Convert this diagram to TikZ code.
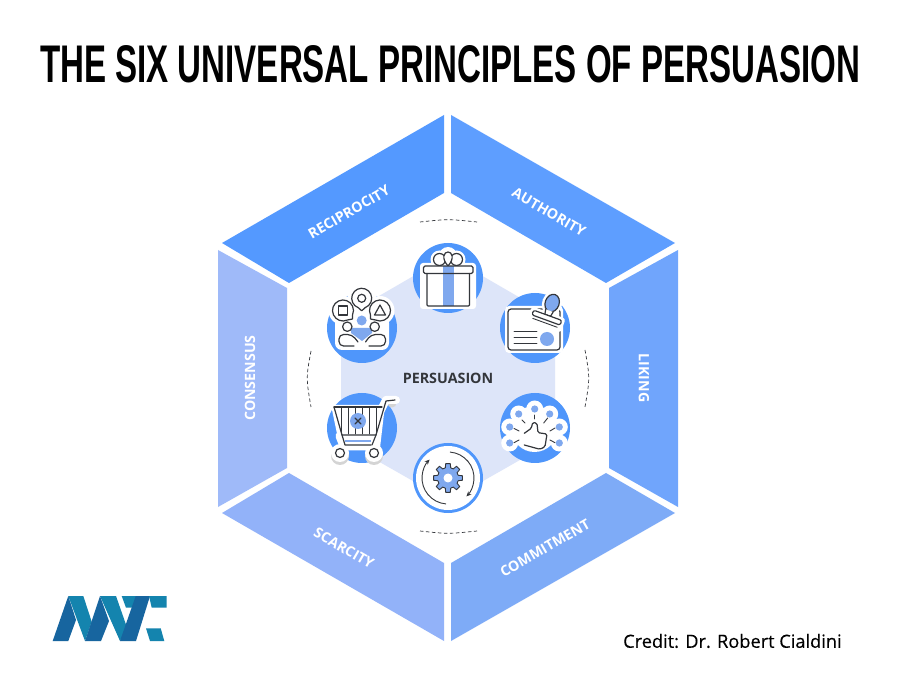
\documentclass[tikz,border=0pt]{standalone}
\usepackage{fontspec}
\usepackage{graphicx}
\usetikzlibrary{arrows.meta}
\setmainfont{Open Sans}
\newfontfamily\titlefont{Liberation Sans}
\newfontfamily\creditfont[FakeBold=0.35]{Open Sans}
\definecolor{cRec}{HTML}{5499FF}
\definecolor{cAut}{HTML}{5E9EFF}
\definecolor{cLik}{HTML}{70A5FC}
\definecolor{cCom}{HTML}{7EABF7}
\definecolor{cSca}{HTML}{92B2F9}
\definecolor{cCon}{HTML}{9FBAF9}
\definecolor{cHex}{HTML}{DDE5F9}
\definecolor{cDisc}{HTML}{4F96FB}
\definecolor{cSoft}{HTML}{7FA8EE}
\definecolor{cInk}{HTML}{33363B}
\definecolor{cHalo}{HTML}{D4D4D4}
\definecolor{cDark}{HTML}{17659F}
\definecolor{cTeal}{HTML}{1484AE}
\tikzset{
  paneltext/.style={text=white,font=\fontsize{14.2}{16}\selectfont\bfseries,inner sep=0pt},
  disc/.style={fill=cDisc,draw=none},
  ink/.style={draw=cInk,line width=1.2pt,line join=round,line cap=round},
  thin ink/.style={draw=cInk,line width=.9pt,line cap=round},
  soft/.style={fill=cSoft,draw=none},
  dasharc/.style={draw=cInk,line width=.7pt,dash pattern=on 3.5pt off 2.5pt},
}
\begin{document}
\begin{tikzpicture}[x=1pt,y=-1pt]
\useasboundingbox (0,0) rectangle (900,700);
\fill[white] (0,0) rectangle (900,700);
% title
\node[inner sep=0pt] (title) at (450,64) {\resizebox{820pt}{37pt}{\titlefont\bfseries THE SIX UNIVERSAL PRINCIPLES OF PERSUASION}};
% panels
\fill[cRec] (444,115) -- (444,193) -- (289,283) -- (222,243) -- cycle;
\fill[cAut] (451,115) -- (451,193) -- (606,283) -- (675,243) -- cycle;
\fill[cLik] (678,250) -- (678,507) -- (609,468) -- (609,288) -- cycle;
\fill[cCom] (675,513) -- (606,473) -- (451,563) -- (451,641) -- cycle;
\fill[cSca] (222,513) -- (289,473) -- (444,563) -- (444,641) -- cycle;
\fill[cCon] (218,250) -- (287,288) -- (287,468) -- (218,507) -- cycle;
\node[paneltext,rotate=30] (rec) at (349,212) {RECIPROCITY};
\node[paneltext,rotate=-30] (aut) at (549,212) {AUTHORITY};
\node[paneltext,rotate=-90] (lik) at (644,378) {LIKING};
\node[paneltext,rotate=30] (com) at (545,548) {COMMITMENT};
\node[paneltext,rotate=-30] (sca) at (344,548) {SCARCITY};
\node[paneltext,rotate=90] (con) at (250,378) {CONSENSUS};
% inner hexagon
\fill[cHex] (448,256) -- (555,318) -- (555,440) -- (448,501) -- (341,440) -- (341,318) -- cycle;
\node[inner sep=0pt,text=cInk,font=\fontsize{14.3}{16}\selectfont\bfseries] (core) at (448,378) {PERSUASION};
% dashed arcs
\draw[dasharc] (420,222) .. controls (448,219) .. (477,222);
\draw[dasharc] (420,531) .. controls (448,534) .. (477,531);
\draw[dasharc] (311,351) .. controls (306,378) .. (311,407);
\draw[dasharc] (585,350) .. controls (590,378) .. (585,407);
% gift
\fill[disc] (448,278) circle (35);
\fill[white,rounded corners=3pt] (420,263) rectangle (476,309);
\foreach \bx/\by in {439.5/259.5,456.5/259.5}{\fill[white] (\bx,\by) circle (9);}
\fill[white] (448,256) circle (9);
\draw[ink] (439.5,259.5) circle (6);
\draw[ink] (456.5,259.5) circle (6);
\draw[ink,fill=white] (448,266) .. controls (441,258) and (444,252) .. (448,252) .. controls (452,252) and (455,258) .. (448,266) -- cycle;
\fill[white] (424,266) rectangle (473,273);
\fill[soft] (442.5,266) rectangle (453.5,306);
\draw[ink,rounded corners=1.5pt] (423.5,266) rectangle (473,273.5);
\draw[ink,rounded corners=1pt] (427,273.5) -- (427,306) -- (469.5,306) -- (469.5,273.5);
% authority card and stamp
\fill[disc] (535,328) circle (35);
\fill[white,rounded corners=4pt] (505,306) rectangle (563,353);
\draw[ink,rounded corners=3pt] (508,309) rectangle (560,350);
\foreach \ly in {331,337,343}{\draw[thin ink] (514,\ly) -- (537,\ly);}
\fill[soft] (547,339) circle (7);
\begin{scope}[shift={(546,320)},rotate=-20]
  \fill[white] (0,-18) ellipse (10 and 12.5);
  \fill[white,rounded corners=3pt] (-18,-8) rectangle (18,7);
  \fill[soft] (0,-18) ellipse (7 and 9);
  \draw[ink] (0,-18) ellipse (7 and 9);
  \draw[ink,fill=white] (-4,-10) -- (-3,-5) -- (3,-5) -- (4,-10);
  \draw[ink,fill=white,rounded corners=2pt] (-15,-5) rectangle (15,0);
  \draw[thin ink] (-13,3) -- (13,3);
\end{scope}
% consensus people
\fill[disc] (362,328) circle (35);
\fill[white] (362,298) circle (14.5);
\fill[white] (343,310.5) circle (14.5);
\fill[white] (380,310.5) circle (14.5);
\fill[white,rounded corners=7pt] (335,316) rectangle (389,350);
\fill[white] (355,300) rectangle (369,320);
\begin{scope}[shift={(361.7,298.3)}]
  \draw[ink] (110:10) arc[start angle=110,end angle=430,radius=10] -- (0,12.5) -- cycle;
  \draw[ink] (0,0) circle (4);
\end{scope}
\begin{scope}[shift={(343,310.5)}]
  \draw[ink] (65:10.5) arc[start angle=65,end angle=385,radius=10.5] -- (9.5,8.5) -- cycle;
  \draw[ink] (-4.5,-4.5) rectangle (4.5,4.5);
\end{scope}
\begin{scope}[shift={(380,310.5)}]
  \draw[ink] (155:10.5) arc[start angle=155,end angle=475,radius=10.5] -- (-9.5,8.5) -- cycle;
  \draw[ink] (0,-5.5) -- (5.5,4.5) -- (-5.5,4.5) -- cycle;
\end{scope}
\fill[soft] (361.7,320.5) circle (5);
\fill[soft] (351,328) -- (372,328) -- (372,333) -- (362,341) -- (351,333) -- cycle;
\draw[ink,fill=white] (347.3,326.7) circle (4.7);
\draw[ink,fill=white] (374.7,326.7) circle (4.7);
\draw[ink,fill=white,rounded corners=4.5pt] (354,346) -- (339,346) -- (339,334.5) -- (352,334.5) -- (358,342);
\draw[ink,fill=white,rounded corners=4.5pt] (369,346) -- (385.5,346) -- (385.5,334.5) -- (371,334.5) -- (365.5,342);
% scarcity cart
\fill[disc] (362,428) circle (35);
\fill[white] (331,405) -- (385,405) -- (380,448) -- (340,448) -- cycle;
\draw[white,line width=9pt,line cap=round,line join=round] (340,436) -- (344,446) -- (374,446);
\fill[cHalo] (392,403) circle (4.5);
\draw[white,line width=8pt,line cap=round,line join=round] (380,412) -- (386,400) -- (396,400);
\fill[cHalo] (340,456) circle (9);
\fill[cHalo] (374,456) circle (9);
\fill[white] (340,453) circle (9);
\fill[white] (374,453) circle (9);
\foreach \vx in {341,348,355,362,369,376}{\draw[thin ink] (\vx,407) -- (\vx,434);}
\fill[soft] (358,421) circle (8);
\draw[ink] (355,418) -- (361,424);
\draw[ink] (361,418) -- (355,424);
\draw[ink] (334,407) -- (382,407);
\draw[ink] (334,407) -- (342,435) -- (376,435) -- (386,401) -- (395,400);
\draw[ink] (342,435) -- (345,445) -- (371,445);
\draw[draw=cSoft,line width=1.4pt] (345,441) -- (371,441);
\draw[ink] (376,435) -- (372,445);
\draw[ink] (340,453) circle (4.5);
\draw[ink] (374,453) circle (4.5);
% liking thumb and spokes
\fill[disc] (535,428) circle (35);
\foreach \dx/\dy in {509.7/443,509.7/427,518.7/414,534.7/409,549.7/414,559.3/427,559.3/443}{
  \fill[white] (\dx,\dy) circle (8.5);
}
\fill[white] (534.5,429) circle (23);
\fill[white] (510,427) rectangle (559,443);
\foreach \dx/\dy in {509.7/443,509.7/427,518.7/414,534.7/409,549.7/414,559.3/427,559.3/443}{
  \fill[soft] (\dx,\dy) circle (3.6);
}
\draw[thin ink] (514,428.5) -- (519,431);
\draw[thin ink] (522,420) -- (525,423);
\draw[thin ink] (534.7,415) -- (534.7,419);
\draw[thin ink] (547.7,418) -- (543.7,423);
\draw[thin ink] (555,428) -- (550,431);
\draw[thin ink] (514,442.7) -- (519,440);
\draw[thin ink] (555,442.7) -- (550,440);
\draw[ink,rounded corners=1.5pt] (524.3,433.3) -- (531.3,428.3) -- (532.7,422.3) -- (537,423.3) -- (538,432.7) -- (547,434) -- (545,446.7) -- (540,449.3) -- (524.3,445);
% commitment gear
\fill[disc] (448,478) circle (35);
\fill[white] (448,478) circle (32);
\begin{scope}[shift={(448,478)}]
  \draw[thin ink,-{Stealth[length=5pt,width=4.5pt]}] (95:26) arc[start angle=95,end angle=225,radius=26];
  \draw[thin ink,-{Stealth[length=5pt,width=4.5pt]}] (-85:26) arc[start angle=-85,end angle=45,radius=26];
  \draw[draw=cInk,fill=cSoft,line width=.9pt,line join=round]
    (0:14.5)
    \foreach \ga in {0,45,...,315}{
      -- (\ga+9:14.5) -- (\ga+15:10.5) -- (\ga+30:10.5) -- (\ga+36:14.5)
    } -- cycle;
  \fill[white] (0,0) circle (4.5);
\end{scope}
% logo
\fill[cTeal] (68.3,596) -- (83.3,596) -- (91.7,621.7) -- (85,641) -- cycle;
\fill[cDark] (52.7,641) -- (68.3,596) -- (76,620) -- (68.3,641) -- cycle;
\fill[cTeal] (100,596) -- (116,596) -- (127.3,628.3) -- (120,641) -- cycle;
\fill[cDark] (85,641) -- (100,596) -- (109,621) -- (101,641) -- cycle;
\fill[cTeal] (121.7,596) -- (150,596) -- (133,607.7) -- (126,607.7) -- cycle;
\fill[cDark] (120,641) -- (135.7,596) -- (150,596) -- (136,641) -- cycle;
\fill[cTeal] (149,596) -- (166.7,596) -- (166.7,607.7) -- (151.7,607.7) -- cycle;
\fill[cTeal] (146,628.3) -- (160.7,628.3) -- (164.3,641) -- (150,641) -- cycle;
% credit
\node[inner sep=0pt,anchor=west,text=black,font=\fontsize{18.2}{20}\selectfont\creditfont] (credit) at (623,641) {Credit: Dr. Robert Cialdini};
\end{tikzpicture}
\end{document}
